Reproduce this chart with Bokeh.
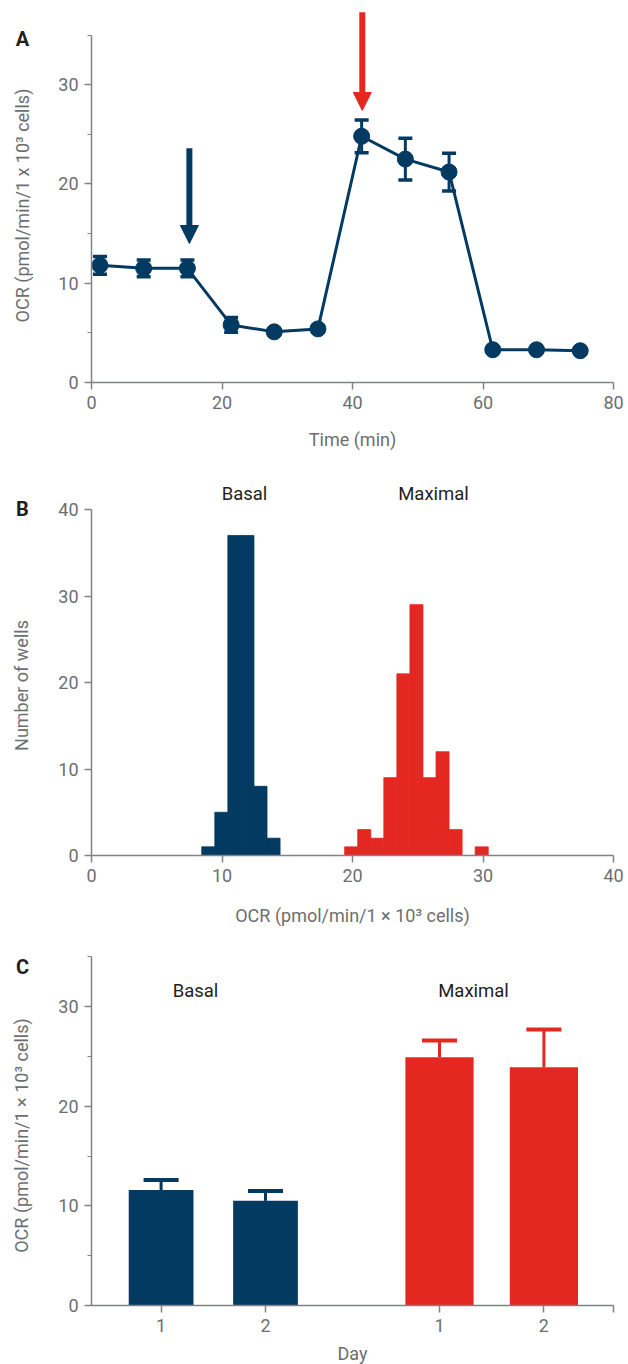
from math import pi
from bokeh.plotting import figure
from bokeh.layouts import column
from bokeh.models import (ColumnDataSource, Whisker, TeeHead, Arrow, NormalHead,
                          SingleIntervalTicker, FixedTicker, Range1d)
from bokeh.core.properties import value
from bokeh.embed import file_html
from bokeh.resources import INLINE

# ---------------- data ----------------
# Panel A: OCR time course
time_min = [1.3, 8.0, 14.7, 21.4, 28.0, 34.7, 41.4, 48.1, 54.8, 61.5, 68.2, 74.9]
ocr_mean = [11.8, 11.5, 11.5, 5.8, 5.1, 5.4, 24.8, 22.5, 21.2, 3.3, 3.3, 3.2]
ocr_err = [0.9, 0.85, 0.85, 0.75, 0.3, 0.3, 1.65, 2.1, 1.9, 0.2, 0.2, 0.2]
injection_time = [15.0, 41.5]
arrow_top = [23.6, 37.3]
arrow_tip = [14.0, 27.4]

# Panel B: histogram of wells
basal_bin_lo = [8.45, 9.45, 10.45, 11.45, 12.45, 13.45]
basal_counts = [1, 5, 37, 37, 8, 2]
maximal_bin_lo = [19.4, 20.4, 21.4, 22.4, 23.4, 24.4, 25.4, 26.4, 27.4, 28.4, 29.4]
maximal_counts = [1, 3, 2, 9, 21, 29, 9, 12, 3, 0, 1]
bin_width = 1.0

# Panel C: day to day
groups = ["Basal", "Maximal"]
days = ["1", "2"]
basal_day_ocr = [11.6, 10.5]
basal_day_err = [1.0, 1.0]
maximal_day_ocr = [24.9, 23.9]
maximal_day_err = [1.7, 3.8]

# ---------------- style ----------------
NAVY = "#033a62"
RED = "#e52722"
AXIS = "#808285"
TICKTXT = "#6d6e71"
BLACK = "#231f20"
FONT = "Roboto"
W = 628
AX_L, AX_R = 91, 613          # pixel extent of the x axis


class Panel:
    """A figure whose frame fills the canvas; axes are pinned at data 0."""

    def __init__(self, page_top, height, xmax, ymax_axis, y0_page, ytop_axis_page):
        self.top = page_top
        self.h = height
        self.sx = (AX_R - AX_L) / xmax
        self.sy = (y0_page - ytop_axis_page) / ymax_axis
        self.y0 = y0_page - page_top
        xr = Range1d(-AX_L / self.sx, (W - AX_L) / self.sx)
        yr = Range1d(-(height - self.y0) / self.sy, self.y0 / self.sy)
        p = figure(width=W, height=height, x_range=xr, y_range=yr,
                   output_backend="svg", toolbar_location=None,
                   min_border_left=0, min_border_right=0,
                   min_border_top=0, min_border_bottom=0)
        p.outline_line_color = None
        p.xgrid.visible = False
        p.ygrid.visible = False
        p.background_fill_color = "white"
        p.border_fill_color = "white"
        for ax in (p.xaxis[0], p.yaxis[0]):
            ax.fixed_location = 0
            ax.axis_line_color = AXIS
            ax.axis_line_width = 1.5
            ax.major_tick_line_color = AXIS
            ax.minor_tick_line_color = AXIS
            ax.major_tick_line_width = 1.5
            ax.minor_tick_line_width = 1.2
            ax.major_tick_in = 0
            ax.major_tick_out = 7
            ax.minor_tick_in = 0
            ax.minor_tick_out = 4
            ax.major_label_text_font = FONT
            ax.major_label_text_font_size = "18px"
            ax.major_label_text_color = TICKTXT
            ax.major_label_standoff = 6
        p.xaxis.bounds = (0, xmax)
        p.yaxis.bounds = (0, ymax_axis)
        self.p = p

    def dx(self, px):
        return (px - AX_L) / self.sx

    def dy(self, py):
        return (self.top + self.y0 - py) / self.sy

    def text(self, px, py, txt, size="18px", color=BLACK, bold=False, angle=0.0):
        self.p.text(x=[self.dx(px)], y=[self.dy(py)], text=[txt], angle=angle,
                    text_font=value(FONT), text_font_size=value(size),
                    text_font_style="bold" if bold else "normal",
                    text_color=color, text_align="center", text_baseline="middle")


# ---------------- Panel A ----------------
A = Panel(page_top=0, height=460, xmax=80, ymax_axis=35, y0_page=382, ytop_axis_page=34.5)
pa = A.p
pa.xaxis.ticker = SingleIntervalTicker(interval=20, num_minor_ticks=0)
pa.yaxis.ticker = SingleIntervalTicker(interval=10, num_minor_ticks=2)

src_a = ColumnDataSource(dict(
    t=time_min, y=ocr_mean,
    lo=[m - e for m, e in zip(ocr_mean, ocr_err)],
    hi=[m + e for m, e in zip(ocr_mean, ocr_err)]))
pa.add_layout(Whisker(source=src_a, base="t", lower="lo", upper="hi", dimension="height",
                      line_color=NAVY, line_width=3, level="underlay",
                      upper_head=TeeHead(size=14, line_color=NAVY, line_width=3.5),
                      lower_head=TeeHead(size=14, line_color=NAVY, line_width=3.5)))
pa.line("t", "y", source=src_a, line_color=NAVY, line_width=3)
pa.scatter("t", "y", source=src_a, size=16, fill_color=NAVY, line_color=NAVY)

for t, y0, y1, col in zip(injection_time, arrow_top, arrow_tip, [NAVY, RED]):
    pa.add_layout(Arrow(end=NormalHead(size=18, fill_color=col, line_color=col),
                        x_start=t, y_start=y0, x_end=t, y_end=y1,
                        line_color=col, line_width=6))
A.text(22, 38, "A", size="20px", bold=True)
A.text(22, 205, "OCR (pmol/min/1 x 10³ cells)", color=TICKTXT, angle=pi / 2)
A.text(352, 439, "Time (min)", color=TICKTXT)

# ---------------- Panel B ----------------
B = Panel(page_top=460, height=480, xmax=40, ymax_axis=40, y0_page=855, ytop_axis_page=509)
pb = B.p
pb.xaxis.ticker = SingleIntervalTicker(interval=10, num_minor_ticks=0)
pb.yaxis.ticker = SingleIntervalTicker(interval=10, num_minor_ticks=0)

pb.quad(left=basal_bin_lo, right=[v + bin_width for v in basal_bin_lo],
        top=basal_counts, bottom=0, fill_color=NAVY, line_color=NAVY, line_width=0.8)
pb.quad(left=maximal_bin_lo, right=[v + bin_width for v in maximal_bin_lo],
        top=maximal_counts, bottom=0, fill_color=RED, line_color=RED, line_width=0.8)
B.text(22, 508, "B", size="20px", bold=True)
B.text(244, 493, "Basal", size="18.5px")
B.text(433, 493, "Maximal", size="18.5px")
B.text(21, 685, "Number of wells", color=TICKTXT, angle=pi / 2)
B.text(352, 915, "OCR (pmol/min/1 × 10³ cells)", color=TICKTXT)

# ---------------- Panel C ----------------
C = Panel(page_top=940, height=424, xmax=7.5, ymax_axis=35, y0_page=1305, ytop_axis_page=1006 - 5 * 299 / 30)
pc = C.p
pc.yaxis.ticker = SingleIntervalTicker(interval=10, num_minor_ticks=2)

tick_pos = []
tick_lab = {}
for gi, (vals, errs, col, bw) in enumerate([(basal_day_ocr, basal_day_err, NAVY, 0.93),
                                            (maximal_day_ocr, maximal_day_err, RED, 0.98)]):
    xs = [1 + 1.5 * di + 4 * gi for di in range(len(days))]
    for x, d in zip(xs, days):
        tick_pos.append(x)
        tick_lab[x] = d
    src = ColumnDataSource(dict(x=xs, top=vals,
                                hi=[v + e for v, e in zip(vals, errs)]))
    pc.add_layout(Whisker(source=src, base="x", lower="top", upper="hi", dimension="height",
                          line_color=col, line_width=3, level="underlay", lower_head=None,
                          upper_head=TeeHead(size=35, line_color=col, line_width=4)))
    pc.vbar(x="x", top="top", bottom=0, width=bw, source=src, fill_color=col, line_color=None)
tick_pos.append(7.5)
tick_lab[7.5] = ""
pc.xaxis.ticker = FixedTicker(ticks=tick_pos)
pc.xaxis.major_label_overrides = tick_lab
C.text(22, 966, "C", size="20px", bold=True)
C.text(195, 990, groups[0], size="18.5px")
C.text(473, 990, groups[1], size="18.5px")
C.text(21, 1135, "OCR (pmol/min/1 × 10³ cells)", color=TICKTXT, angle=pi / 2)
C.text(352, 1353, "Day", color=TICKTXT)

layout = column(pa, pb, pc, spacing=0)
open("out.html", "w").write(file_html(layout, INLINE))
